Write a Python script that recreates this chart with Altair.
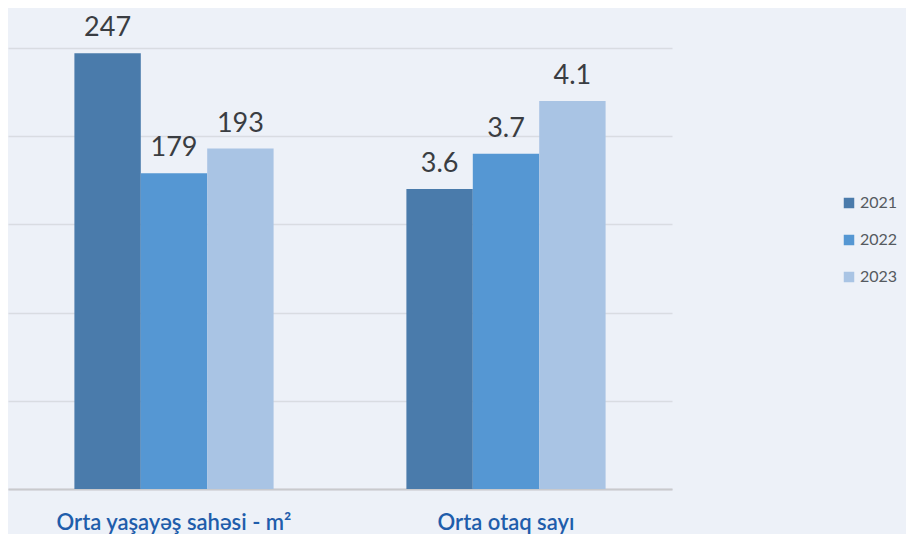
import altair as alt
import pandas as pd

categories = ["Orta yaşayəş sahəsi - m²", "Orta otaq sayı"]
years = ["2021", "2022", "2023"]
# bar heights as drawn (shared visual scale 0-250)
heights_group1 = [247, 179, 193]
heights_group2 = [170, 190, 220]
labels_group1 = ["247", "179", "193"]
labels_group2 = ["3.6", "3.7", "4.1"]
colors = ["#4a7bab", "#5597d3", "#a9c4e4"]

rows = []
for cat, hs, ls in [(categories[0], heights_group1, labels_group1),
                    (categories[1], heights_group2, labels_group2)]:
    for y, h, l in zip(years, hs, ls):
        rows.append({"cat": cat, "year": y, "h": h, "label": l})
df = pd.DataFrame(rows)

FONT = "Lato"

x = alt.X("cat:N", sort=categories, title=None,
          scale=alt.Scale(paddingInner=0.4, paddingOuter=0.2),
          axis=alt.Axis(labelAngle=0, labelFontSize=22, labelColor="#1f5dab",
                        labelFont=FONT, labelFontWeight=600, labelLimit=0,
                        labelPadding=23, ticks=False,
                        domain=True, domainColor="#c9cacd", domainWidth=2))
y = alt.Y("h:Q", title=None, scale=alt.Scale(domain=[0, 250], nice=False),
          axis=alt.Axis(values=[0, 50, 100, 150, 200, 250], labels=False,
                        ticks=False, domain=False, grid=True,
                        gridColor="#d9dce2", gridWidth=1.5))

bars = alt.Chart(df).mark_bar().encode(
    x=x,
    y=y,
    xOffset=alt.XOffset("year:N", sort=years),
    color=alt.Color("year:N", sort=years,
                    scale=alt.Scale(domain=years, range=colors),
                    legend=alt.Legend(title=None, orient="none", legendX=833,
                                      legendY=147, symbolType="square",
                                      symbolSize=110, symbolStrokeWidth=0,
                                      labelFontSize=16, labelFont=FONT,
                                      labelOffset=3,
                                      labelColor="#555a60", rowPadding=21)),
)

text = alt.Chart(df).mark_text(baseline="alphabetic", dy=-17, fontSize=27,
                               font=FONT, color="#3a3d42").encode(
    x=alt.X("cat:N", sort=categories),
    y=alt.Y("h:Q"),
    xOffset=alt.XOffset("year:N", sort=years),
    text="label:N",
)

chart = (bars + text).properties(
    width=664, height=441,
    background="#edf1f8",
    padding={"left": 0, "top": 40, "right": 234, "bottom": 45},
    autosize=alt.AutoSizeParams(type="none"),
).configure_view(stroke=None)

chart.save("out.html", embed_options={"renderer": "svg", "actions": False})
